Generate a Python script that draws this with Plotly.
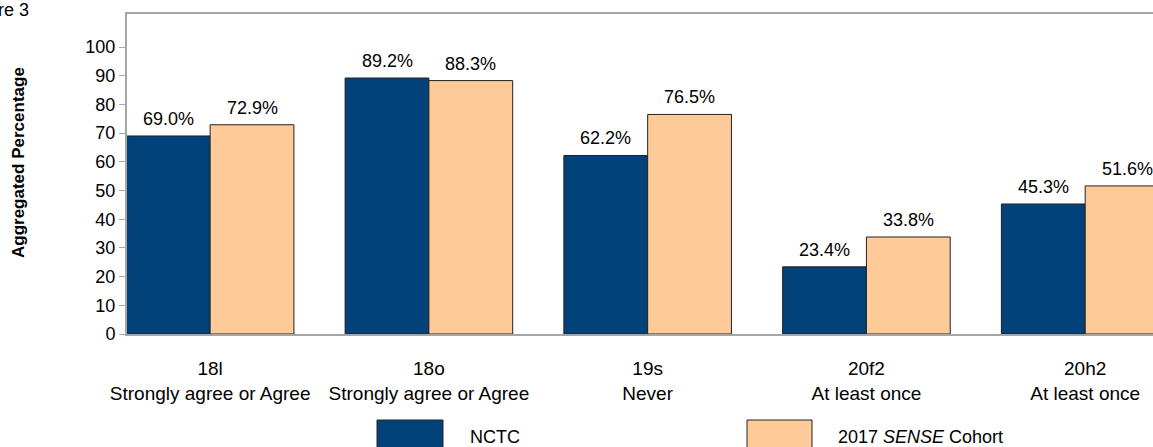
import plotly.graph_objects as go

categories = ["18l<br>Strongly agree or Agree", "18o<br>Strongly agree or Agree",
              "19s<br>Never", "20f2<br>At least once", "20h2<br>At least once"]
nctc = [69.0, 89.2, 62.2, 23.4, 45.3]
sense = [72.9, 88.3, 76.5, 33.8, 51.6]
series_names = ["NCTC", "2017 <i>SENSE</i> Cohort"]
yticks = [0, 10, 20, 30, 40, 50, 60, 70, 80, 90, 100]

C_NCTC = "#02427A"
C_SENSE = "#FECB98"
FONT = "Liberation Sans, Arial, sans-serif"

W, H = 1153, 447
PLOT_L, PLOT_T, PLOT_B = 127, 14, 334  # pixel positions of plot area
ML, MT = PLOT_L, PLOT_T
MB = H - PLOT_B
PW, PH = W - ML, H - MT - MB

bargap = 0.234
half = (1 - bargap) / 2  # width of one bar in category units

fig = go.Figure()
idx = list(range(len(categories)))
fig.add_bar(x=idx, y=nctc, name=series_names[0], marker=dict(color=C_NCTC, line=dict(color="#222222", width=1)))
fig.add_bar(x=idx, y=sense, name=series_names[1], marker=dict(color=C_SENSE, line=dict(color="#222222", width=1)))

anns = []
for i, v in enumerate(nctc):
    anns.append(dict(x=i - half / 2, y=v, xref="x", yref="y", text=f"{v:.1f}%", showarrow=False,
                     yanchor="bottom", yshift=5, font=dict(size=18, color="black", family=FONT)))
for i, v in enumerate(sense):
    anns.append(dict(x=i + half / 2, y=v, xref="x", yref="y", text=f"{v:.1f}%", showarrow=False,
                     yanchor="bottom", yshift=5, font=dict(size=18, color="black", family=FONT)))

def px(xp):
    return (xp - PLOT_L) / PW

def py(yp):
    return (PLOT_B - yp) / PH

# y axis title
anns.append(dict(x=px(18), y=py(163), xref="paper", yref="paper", text="<b>Aggregated Percentage</b>",
                 textangle=-90, showarrow=False, xanchor="center", yanchor="middle",
                 font=dict(size=17, color="black", family=FONT)))
# Figure caption (cut off at the left edge)
anns.append(dict(x=px(31), y=py(10), xref="paper", yref="paper", text="Figure 3", showarrow=False,
                 xanchor="right", yanchor="middle", font=dict(size=18, color="black", family=FONT)))

# legend
shapes = []
legend_items = [(377, 443, 468, C_NCTC, series_names[0]), (747, 812, 836, C_SENSE, series_names[1])]
for x0, x1, tx, col, name in legend_items:
    shapes.append(dict(type="rect", xref="paper", yref="paper", x0=px(x0), x1=px(x1), y0=py(455), y1=py(420),
                       fillcolor=col, line=dict(color="#222222", width=1)))
    anns.append(dict(x=px(tx), y=py(437), xref="paper", yref="paper", text=name, showarrow=False,
                     xanchor="left", yanchor="middle", font=dict(size=18, color="black", family=FONT)))

fig.update_layout(
    width=W, height=H,
    margin=dict(l=ML, r=0, t=MT, b=MB),
    barmode="group", bargap=bargap, bargroupgap=0,
    plot_bgcolor="white", paper_bgcolor="white",
    showlegend=False,
    font=dict(family=FONT, size=18, color="black"),
    annotations=anns, shapes=shapes,
    xaxis=dict(range=[-0.38, 4.31], tickmode="array", tickvals=idx, ticktext=categories,
               showline=True, linecolor="#A6A6A6", linewidth=2, mirror=True,
               ticks="outside", ticklen=16, tickcolor="rgba(0,0,0,0)",
               showgrid=False, zeroline=False, tickfont=dict(size=19, color="black")),
    yaxis=dict(range=[0, 111.5], tickvals=yticks, showline=True, linecolor="#A6A6A6", linewidth=2,
               ticks="outside", ticklen=6, tickcolor="#A6A6A6", showgrid=False, zeroline=False,
               tickfont=dict(size=18, color="black")),
)

fig.write_html("out.html", config={"displayModeBar": False},
               post_script="document.body.style.margin='0';document.body.style.overflow='hidden';")
